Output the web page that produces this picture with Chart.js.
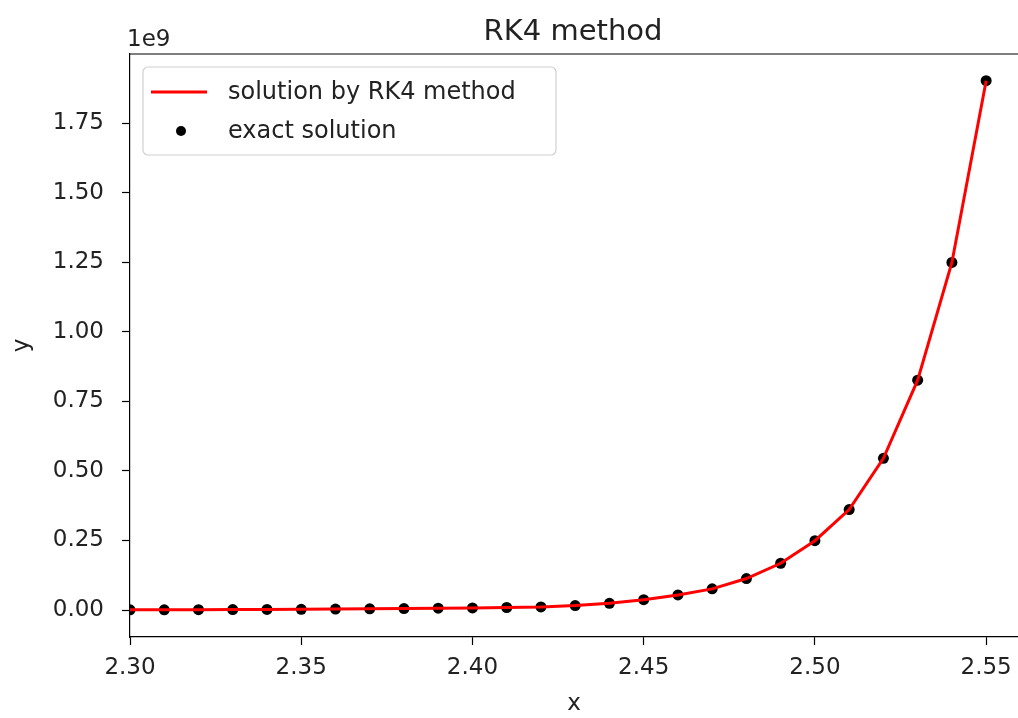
<!DOCTYPE html>
<html>
<head>
<meta charset="utf-8">
<script src="https://cdn.jsdelivr.net/npm/chart.js@4"></script>
<style>
  body { margin: 0; background: #fff; }
  #wrap { width: 1018px; height: 718px; position: relative; }
</style>
</head>
<body>
<div id="wrap"><canvas id="myChart"></canvas></div>
<script>
// x grid and the two solutions, y in units of 1e9
const xs = [2.30, 2.31, 2.32, 2.33, 2.34, 2.35, 2.36, 2.37, 2.38, 2.39, 2.40, 2.41, 2.42,
            2.43, 2.44, 2.45, 2.46, 2.47, 2.48, 2.49, 2.50, 2.51, 2.52, 2.53, 2.54, 2.55];
const rk4 = [0.0005, 0.0007, 0.0010, 0.0014, 0.0019, 0.0026, 0.0034, 0.0043, 0.0052, 0.0064, 0.0076, 0.0090, 0.0110,
             0.0160, 0.0240, 0.0370, 0.0540, 0.0760, 0.1130, 0.1680, 0.2490, 0.3610, 0.5450, 0.8260, 1.2490, 1.9020];
const exact = [0.0005, 0.0007, 0.0010, 0.0014, 0.0019, 0.0026, 0.0034, 0.0043, 0.0052, 0.0064, 0.0076, 0.0090, 0.0110,
               0.0160, 0.0240, 0.0370, 0.0540, 0.0760, 0.1130, 0.1680, 0.2490, 0.3610, 0.5450, 0.8260, 1.2490, 1.9020];
const yTicks = [0, 0.25, 0.5, 0.75, 1.0, 1.25, 1.5, 1.75];
const xTicks = [2.30, 2.35, 2.40, 2.45, 2.50, 2.55];

const SCALE = 1e9;
const font = 'DejaVu Sans';
const txt = '#222';

const ctx = document.getElementById('myChart').getContext('2d');

// title, top frame line, "1e9" offset text and the legend box
const extras = {
  id: 'extras',
  afterDraw(chart) {
    const c = chart.ctx;
    const a = chart.chartArea;
    c.save();
    c.strokeStyle = '#000';
    c.lineWidth = 1.2;
    c.beginPath();
    c.moveTo(a.left, a.top);
    c.lineTo(a.right, a.top);
    c.stroke();

    c.fillStyle = txt;
    c.font = '29px "' + font + '"';
    c.textAlign = 'center';
    c.textBaseline = 'alphabetic';
    c.fillText('RK4 method', 573, 40);

    c.font = '23px "' + font + '"';
    c.textAlign = 'left';
    c.fillText('1e9', a.left - 3, 46);

    // legend
    const lx = 143, ly = 67, lw = 413, lh = 88;
    c.beginPath();
    c.roundRect(lx, ly, lw, lh, 5);
    c.fillStyle = 'rgba(255,255,255,0.8)';
    c.fill();
    c.strokeStyle = '#d0d0d0';
    c.lineWidth = 1.2;
    c.stroke();

    const ds = chart.data.datasets;
    c.strokeStyle = ds[0].borderColor;
    c.lineWidth = 3;
    c.beginPath();
    c.moveTo(151, 92);
    c.lineTo(207, 92);
    c.stroke();
    c.fillStyle = ds[1].backgroundColor;
    c.beginPath();
    c.arc(181, 131, 5, 0, Math.PI * 2);
    c.fill();

    c.fillStyle = txt;
    c.font = '24px "' + font + '"';
    c.textBaseline = 'middle';
    c.fillText(ds[0].label, 228, 93);
    c.fillText(ds[1].label, 228, 132);
    c.restore();
  }
};

const myChart = new Chart(ctx, {
  type: 'scatter',
  data: {
    datasets: [{
      label: 'solution by RK4 method',
      data: xs.map((x, i) => ({ x: x, y: rk4[i] * SCALE })),
      showLine: true,
      borderColor: 'rgb(255, 0, 0)',
      backgroundColor: 'rgb(255, 0, 0)',
      borderWidth: 3,
      pointRadius: 0,
      tension: 0
    }, {
      label: 'exact solution',
      data: xs.map((x, i) => ({ x: x, y: exact[i] * SCALE })),
      showLine: false,
      borderColor: '#000',
      backgroundColor: '#000',
      pointRadius: 5.5,
      pointBorderWidth: 0
    }]
  },
  options: {
    responsive: true,
    maintainAspectRatio: false,
    animation: false,
    layout: { autoPadding: false, padding: { top: 54, right: 0, left: 0, bottom: 0 } },
    plugins: {
      legend: { display: false },
      tooltip: { enabled: false }
    },
    scales: {
      x: {
        type: 'linear',
        min: 2.30,
        max: 2.5593,
        afterFit: s => { s.height = 81; s.paddingLeft = 0; s.paddingRight = 0; },
        afterBuildTicks: s => { s.ticks = xTicks.map(v => ({ value: v })); },
        ticks: {
          color: txt,
          font: { family: font, size: 23 },
          padding: 9,
          callback: v => v.toFixed(2)
        },
        grid: { display: true, drawOnChartArea: false, drawTicks: true, tickLength: 8, color: '#000', tickWidth: 1.2 },
        border: { display: true, color: '#000', width: 1.2 },
        title: { display: true, text: 'x', color: txt, font: { family: font, size: 23 }, padding: { top: 0, bottom: 0 } }
      },
      y: {
        type: 'linear',
        min: -0.097 * SCALE,
        max: 1.998 * SCALE,
        afterFit: s => { s.width = 130; },
        afterBuildTicks: s => { s.ticks = yTicks.map(v => ({ value: v * SCALE })); },
        ticks: {
          color: txt,
          font: { family: font, size: 23 },
          padding: 18,
          callback: v => (v / SCALE).toFixed(2)
        },
        grid: { display: true, drawOnChartArea: false, drawTicks: true, tickLength: 8, color: '#000', tickWidth: 1.2 },
        border: { display: true, color: '#000', width: 1.2 },
        title: { display: true, text: 'y', color: txt, font: { family: font, size: 23 }, padding: { top: 8, bottom: 0 } }
      }
    }
  },
  plugins: [extras]
});
</script>
</body>
</html>
